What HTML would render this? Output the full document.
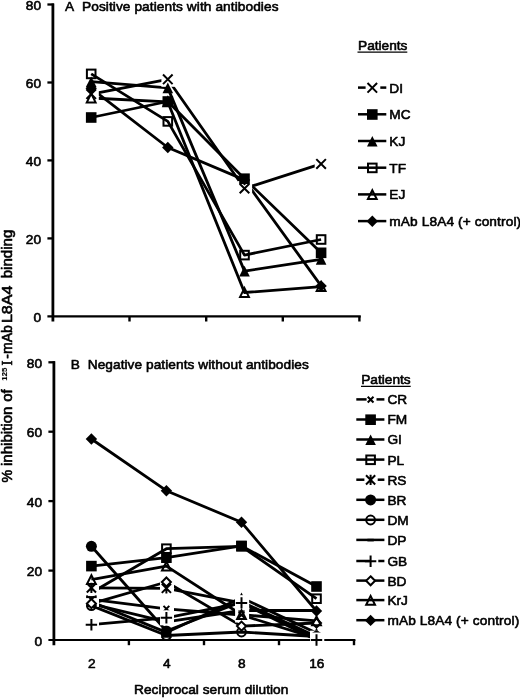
<!DOCTYPE html>
<html><head><meta charset="utf-8"><title>Figure</title>
<style>
html,body{margin:0;padding:0;background:#fff;}
svg{display:block;filter:grayscale(1);}
text{font-family:'Liberation Sans', Arial, sans-serif;font-size:13.7px;fill:#000;stroke:#000;stroke-width:0.6px;stroke-linejoin:round;}
</style></head><body>
<svg width="520" height="698" viewBox="0 0 520 698">
<rect width="520" height="698" fill="#fff"/>
<path d="M52.9 3.5V321.5" stroke="#000" stroke-width="2.8" fill="none"/>
<path d="M47.4 316.3H360.8" stroke="#000" stroke-width="2.2" fill="none"/>
<path d="M129.5 316.3v5.2" stroke="#000" stroke-width="2.4" fill="none"/>
<path d="M206.2 316.3v5.2" stroke="#000" stroke-width="2.4" fill="none"/>
<path d="M282.8 316.3v5.2" stroke="#000" stroke-width="2.4" fill="none"/>
<path d="M359.4 316.3v5.2" stroke="#000" stroke-width="2.4" fill="none"/>
<path d="M47.4 238.4H53.9" stroke="#000" stroke-width="2.3" fill="none"/>
<path d="M47.4 160.4H53.9" stroke="#000" stroke-width="2.3" fill="none"/>
<path d="M47.4 82.5H53.9" stroke="#000" stroke-width="2.3" fill="none"/>
<path d="M47.4 4.5H53.9" stroke="#000" stroke-width="2.3" fill="none"/>
<text x="41.0" y="322.0" text-anchor="end" >0</text>
<text x="41.0" y="244.1" text-anchor="end" >20</text>
<text x="41.0" y="166.1" text-anchor="end" >40</text>
<text x="41.0" y="88.2" text-anchor="end" >60</text>
<text x="41.0" y="10.2" text-anchor="end" >80</text>
<polyline points="91.2,94.1 167.8,79.3 244.5,188.5 321.1,163.9" fill="none" stroke="#000" stroke-width="2.8" stroke-linejoin="round"/>
<polyline points="91.2,117.5 167.8,101.5 244.5,178.7 321.1,252.8" fill="none" stroke="#000" stroke-width="2.8" stroke-linejoin="round"/>
<polyline points="91.2,81.7 167.8,87.9 244.5,271.1 321.1,259.4" fill="none" stroke="#000" stroke-width="2.8" stroke-linejoin="round"/>
<polyline points="91.2,73.9 167.8,121.4 244.5,255.1 321.1,239.5" fill="none" stroke="#000" stroke-width="2.8" stroke-linejoin="round"/>
<polyline points="91.2,98.0 167.8,101.9 244.5,292.5 321.1,286.7" fill="none" stroke="#000" stroke-width="2.8" stroke-linejoin="round"/>
<polyline points="91.2,88.3 167.8,147.5 244.5,179.9 321.1,285.9" fill="none" stroke="#000" stroke-width="2.8" stroke-linejoin="round"/>
<rect x="84.8" y="86.6" width="14.0" height="15.0" fill="#fff"/>
<path d="M86.4 89.3L96.0 98.9M86.4 98.9L96.0 89.3" stroke="#000" stroke-width="2.0" fill="none"/>
<rect x="161.4" y="71.8" width="14.0" height="15.0" fill="#fff"/>
<path d="M163.0 74.5L172.6 84.1M163.0 84.1L172.6 74.5" stroke="#000" stroke-width="2.0" fill="none"/>
<rect x="238.1" y="181.0" width="14.0" height="15.0" fill="#fff"/>
<path d="M239.7 183.7L249.3 193.3M239.7 193.3L249.3 183.7" stroke="#000" stroke-width="2.0" fill="none"/>
<rect x="314.7" y="156.4" width="14.0" height="15.0" fill="#fff"/>
<path d="M316.3 159.1L325.9 168.7M316.3 168.7L325.9 159.1" stroke="#000" stroke-width="2.0" fill="none"/>
<rect x="85.9" y="112.2" width="10.6" height="10.6" fill="#000"/>
<rect x="162.5" y="96.2" width="10.6" height="10.6" fill="#000"/>
<rect x="239.2" y="173.4" width="10.6" height="10.6" fill="#000"/>
<rect x="315.8" y="247.5" width="10.6" height="10.6" fill="#000"/>
<path d="M91.2 76.4L96.5 87.0H85.9Z" fill="#000"/>
<path d="M167.8 82.6L173.1 93.2H162.5Z" fill="#000"/>
<path d="M244.5 265.8L249.8 276.4H239.2Z" fill="#000"/>
<path d="M321.1 254.1L326.4 264.7H315.8Z" fill="#000"/>
<rect x="86.9" y="69.6" width="8.6" height="8.6" fill="none" stroke="#000" stroke-width="2.0"/>
<rect x="163.5" y="117.1" width="8.6" height="8.6" fill="none" stroke="#000" stroke-width="2.0"/>
<rect x="240.2" y="250.8" width="8.6" height="8.6" fill="none" stroke="#000" stroke-width="2.0"/>
<rect x="316.8" y="235.2" width="8.6" height="8.6" fill="none" stroke="#000" stroke-width="2.0"/>
<path d="M91.2 93.6L95.6 102.4H86.8Z" fill="none" stroke="#000" stroke-width="2.0" stroke-linejoin="miter"/>
<path d="M167.8 97.5L172.2 106.3H163.4Z" fill="none" stroke="#000" stroke-width="2.0" stroke-linejoin="miter"/>
<path d="M244.5 288.1L248.9 296.9H240.1Z" fill="none" stroke="#000" stroke-width="2.0" stroke-linejoin="miter"/>
<path d="M321.1 282.3L325.5 291.1H316.7Z" fill="none" stroke="#000" stroke-width="2.0" stroke-linejoin="miter"/>
<path d="M91.2 82.6L96.9 88.3L91.2 94.0L85.5 88.3Z" fill="#000"/>
<path d="M167.8 141.8L173.5 147.5L167.8 153.2L162.1 147.5Z" fill="#000"/>
<path d="M244.5 174.2L250.2 179.9L244.5 185.6L238.8 179.9Z" fill="#000"/>
<path d="M321.1 280.2L326.8 285.9L321.1 291.6L315.4 285.9Z" fill="#000"/>
<path d="M53.9 361.3V645.2" stroke="#000" stroke-width="2.8" fill="none"/>
<path d="M48.4 640.0H355.4" stroke="#000" stroke-width="2.2" fill="none"/>
<path d="M128.9 640.0v5.2" stroke="#000" stroke-width="2.4" fill="none"/>
<path d="M204.0 640.0v5.2" stroke="#000" stroke-width="2.4" fill="none"/>
<path d="M279.0 640.0v5.2" stroke="#000" stroke-width="2.4" fill="none"/>
<path d="M354.0 640.0v5.2" stroke="#000" stroke-width="2.4" fill="none"/>
<path d="M48.4 570.6H54.9" stroke="#000" stroke-width="2.3" fill="none"/>
<path d="M48.4 501.1H54.9" stroke="#000" stroke-width="2.3" fill="none"/>
<path d="M48.4 431.7H54.9" stroke="#000" stroke-width="2.3" fill="none"/>
<path d="M48.4 362.3H54.9" stroke="#000" stroke-width="2.3" fill="none"/>
<text x="42.0" y="645.6" text-anchor="end" >0</text>
<text x="42.0" y="576.2" text-anchor="end" >20</text>
<text x="42.0" y="506.8" text-anchor="end" >40</text>
<text x="42.0" y="437.3" text-anchor="end" >60</text>
<text x="42.0" y="367.9" text-anchor="end" >80</text>
<polyline points="91.4,599.4 166.4,608.8 241.5,615.0 316.5,638.3" fill="none" stroke="#000" stroke-width="2.8" stroke-linejoin="round"/>
<polyline points="91.4,566.1 166.4,557.7 241.5,545.9 316.5,586.5" fill="none" stroke="#000" stroke-width="2.8" stroke-linejoin="round"/>
<polyline points="91.4,601.8 166.4,632.4 241.5,597.7 316.5,633.1" fill="none" stroke="#000" stroke-width="2.8" stroke-linejoin="round"/>
<polyline points="91.4,592.8 166.4,548.7 241.5,546.3 316.5,598.7" fill="none" stroke="#000" stroke-width="2.8" stroke-linejoin="round"/>
<polyline points="91.4,587.9 166.4,588.3 241.5,602.9 316.5,638.3" fill="none" stroke="#000" stroke-width="2.8" stroke-linejoin="round"/>
<polyline points="91.4,546.3 166.4,631.0 241.5,601.8 316.5,636.5" fill="none" stroke="#000" stroke-width="2.8" stroke-linejoin="round"/>
<polyline points="91.4,605.6 166.4,635.5 241.5,632.0 316.5,636.5" fill="none" stroke="#000" stroke-width="2.8" stroke-linejoin="round"/>
<polyline points="91.4,603.9 166.4,621.9 241.5,610.5 316.5,610.5" fill="none" stroke="#000" stroke-width="2.8" stroke-linejoin="round"/>
<polyline points="91.4,624.7 166.4,617.8 241.5,602.9 316.5,640.0" fill="none" stroke="#000" stroke-width="2.8" stroke-linejoin="round"/>
<polyline points="91.4,603.6 166.4,582.0 241.5,626.1 316.5,623.0" fill="none" stroke="#000" stroke-width="2.8" stroke-linejoin="round"/>
<polyline points="91.4,579.6 166.4,566.1 241.5,614.7 316.5,620.9" fill="none" stroke="#000" stroke-width="2.8" stroke-linejoin="round"/>
<polyline points="91.4,439.0 166.4,490.7 241.5,522.3 316.5,611.0" fill="none" stroke="#000" stroke-width="2.8" stroke-linejoin="round"/>
<rect x="85.0" y="591.9" width="14.0" height="15.0" fill="#fff"/>
<path d="M88.5 596.5L94.3 602.3M88.5 602.3L94.3 596.5" stroke="#000" stroke-width="2.0" fill="none"/>
<rect x="160.0" y="601.3" width="14.0" height="15.0" fill="#fff"/>
<path d="M163.5 605.9L169.3 611.7M163.5 611.7L169.3 605.9" stroke="#000" stroke-width="2.0" fill="none"/>
<rect x="235.1" y="607.5" width="14.0" height="15.0" fill="#fff"/>
<path d="M238.6 612.1L244.4 617.9M238.6 617.9L244.4 612.1" stroke="#000" stroke-width="2.0" fill="none"/>
<rect x="310.1" y="630.8" width="14.0" height="15.0" fill="#fff"/>
<path d="M313.6 635.4L319.4 641.2M313.6 641.2L319.4 635.4" stroke="#000" stroke-width="2.0" fill="none"/>
<rect x="86.1" y="560.8" width="10.6" height="10.6" fill="#000"/>
<rect x="161.1" y="552.4" width="10.6" height="10.6" fill="#000"/>
<rect x="236.2" y="540.6" width="10.6" height="10.6" fill="#000"/>
<rect x="311.2" y="581.2" width="10.6" height="10.6" fill="#000"/>
<path d="M91.4 596.5L96.7 607.1H86.1Z" fill="#000"/>
<path d="M166.4 627.1L171.7 637.7H161.1Z" fill="#000"/>
<path d="M241.5 592.4L246.8 603.0H236.2Z" fill="#000"/>
<path d="M316.5 627.8L321.8 638.4H311.2Z" fill="#000"/>
<rect x="87.1" y="588.5" width="8.6" height="8.6" fill="none" stroke="#000" stroke-width="2.0"/>
<rect x="162.1" y="544.4" width="8.6" height="8.6" fill="none" stroke="#000" stroke-width="2.0"/>
<rect x="237.2" y="542.0" width="8.6" height="8.6" fill="none" stroke="#000" stroke-width="2.0"/>
<rect x="312.2" y="594.4" width="8.6" height="8.6" fill="none" stroke="#000" stroke-width="2.0"/>
<rect x="85.0" y="580.4" width="14.0" height="15.0" fill="#fff"/>
<path d="M86.8 583.3L96.0 592.5M86.8 592.5L96.0 583.3M91.4 582.7V593.1" stroke="#000" stroke-width="2.0" fill="none"/>
<rect x="160.0" y="580.8" width="14.0" height="15.0" fill="#fff"/>
<path d="M161.8 583.7L171.0 592.9M161.8 592.9L171.0 583.7M166.4 583.1V593.5" stroke="#000" stroke-width="2.0" fill="none"/>
<rect x="235.1" y="595.4" width="14.0" height="15.0" fill="#fff"/>
<path d="M236.9 598.3L246.1 607.5M236.9 607.5L246.1 598.3M241.5 597.7V608.1" stroke="#000" stroke-width="2.0" fill="none"/>
<rect x="310.1" y="630.8" width="14.0" height="15.0" fill="#fff"/>
<path d="M311.9 633.7L321.1 642.9M311.9 642.9L321.1 633.7M316.5 633.1V643.5" stroke="#000" stroke-width="2.0" fill="none"/>
<circle cx="91.4" cy="546.3" r="5.5" fill="#000"/>
<circle cx="166.4" cy="631.0" r="5.5" fill="#000"/>
<circle cx="241.5" cy="601.8" r="5.5" fill="#000"/>
<circle cx="316.5" cy="636.5" r="5.5" fill="#000"/>
<circle cx="91.4" cy="605.6" r="4.4" fill="none" stroke="#000" stroke-width="2.0"/>
<circle cx="166.4" cy="635.5" r="4.4" fill="none" stroke="#000" stroke-width="2.0"/>
<circle cx="241.5" cy="632.0" r="4.4" fill="none" stroke="#000" stroke-width="2.0"/>
<circle cx="316.5" cy="636.5" r="4.4" fill="none" stroke="#000" stroke-width="2.0"/>
<path d="M88.2 603.9H94.6" stroke="#000" stroke-width="2.6" fill="none"/>
<path d="M163.2 621.9H169.6" stroke="#000" stroke-width="2.6" fill="none"/>
<path d="M238.3 610.5H244.7" stroke="#000" stroke-width="2.6" fill="none"/>
<path d="M313.3 610.5H319.7" stroke="#000" stroke-width="2.6" fill="none"/>
<rect x="85.0" y="617.2" width="14.0" height="15.0" fill="#fff"/>
<path d="M85.7 624.7H97.1M91.4 619.0V630.4" stroke="#000" stroke-width="2.0" fill="none"/>
<rect x="160.0" y="610.3" width="14.0" height="15.0" fill="#fff"/>
<path d="M160.7 617.8H172.1M166.4 612.1V623.5" stroke="#000" stroke-width="2.0" fill="none"/>
<rect x="235.1" y="595.4" width="14.0" height="15.0" fill="#fff"/>
<path d="M235.8 602.9H247.2M241.5 597.2V608.6" stroke="#000" stroke-width="2.0" fill="none"/>
<rect x="310.1" y="632.5" width="14.0" height="15.0" fill="#fff"/>
<path d="M310.8 640.0H322.2M316.5 634.3V645.7" stroke="#000" stroke-width="2.0" fill="none"/>
<path d="M91.4 599.1L95.9 603.6L91.4 608.1L86.9 603.6Z" fill="#fff" stroke="#000" stroke-width="2.0"/>
<path d="M166.4 577.5L170.9 582.0L166.4 586.5L161.9 582.0Z" fill="#fff" stroke="#000" stroke-width="2.0"/>
<path d="M241.5 621.6L246.0 626.1L241.5 630.6L237.0 626.1Z" fill="#fff" stroke="#000" stroke-width="2.0"/>
<path d="M316.5 618.5L321.0 623.0L316.5 627.5L312.0 623.0Z" fill="#fff" stroke="#000" stroke-width="2.0"/>
<path d="M91.4 575.2L95.8 584.0H87.0Z" fill="none" stroke="#000" stroke-width="2.0" stroke-linejoin="miter"/>
<path d="M166.4 561.7L170.8 570.5H162.0Z" fill="none" stroke="#000" stroke-width="2.0" stroke-linejoin="miter"/>
<path d="M241.5 610.3L245.9 619.1H237.1Z" fill="none" stroke="#000" stroke-width="2.0" stroke-linejoin="miter"/>
<path d="M316.5 616.5L320.9 625.3H312.1Z" fill="none" stroke="#000" stroke-width="2.0" stroke-linejoin="miter"/>
<path d="M91.4 433.3L97.1 439.0L91.4 444.7L85.7 439.0Z" fill="#000"/>
<path d="M166.4 485.0L172.1 490.7L166.4 496.4L160.7 490.7Z" fill="#000"/>
<path d="M241.5 516.6L247.2 522.3L241.5 528.0L235.8 522.3Z" fill="#000"/>
<path d="M316.5 605.3L322.2 611.0L316.5 616.7L310.8 611.0Z" fill="#000"/>
<text x="65.0" y="10.6" text-anchor="start" textLength="213.5" lengthAdjust="spacing">A&#160; Positive patients with antibodies</text>
<text x="70.8" y="368.8" text-anchor="start" textLength="238" lengthAdjust="spacing">B&#160; Negative patients without antibodies</text>
<text x="91.7" y="667.5" text-anchor="middle" >2</text>
<text x="166.7" y="667.5" text-anchor="middle" >4</text>
<text x="241.8" y="667.5" text-anchor="middle" >8</text>
<text x="316.8" y="667.5" text-anchor="middle" >16</text>
<text x="134.0" y="694.0" text-anchor="start" textLength="154.3" lengthAdjust="spacing">Reciprocal serum dilution</text>
<g transform="translate(12.2 482) rotate(-90)">
<text x="-0.4" y="0.0" style="font-size:14.3px;" textLength="12.7" lengthAdjust="spacingAndGlyphs">%</text>
<text x="15.9" y="0.0" style="font-size:14.3px;" textLength="59.6" lengthAdjust="spacingAndGlyphs">inhibition</text>
<text x="80.2" y="0.0" style="font-size:14.3px;" textLength="12.6" lengthAdjust="spacingAndGlyphs">of</text>
<text x="101.3" y="-5.3" style="font-size:7.6px;font-family:'Liberation Sans',Arial,sans-serif;font-weight:bold;stroke-width:0.1px;" textLength="13.0" lengthAdjust="spacingAndGlyphs">125</text>
<text x="116.4" y="0.0" style="font-size:14.6px;font-family:'Liberation Serif','Times New Roman',serif;" textLength="5.0" lengthAdjust="spacingAndGlyphs">I</text>
<text x="123.3" y="0.0" style="font-size:14.3px;" textLength="33.6" lengthAdjust="spacingAndGlyphs">-mAb</text>
<text x="158.9" y="0.0" style="font-size:14.3px;" textLength="37.5" lengthAdjust="spacingAndGlyphs">L8A4</text>
<text x="203.7" y="0.0" style="font-size:14.3px;" textLength="48.6" lengthAdjust="spacingAndGlyphs">binding</text>
</g>
<text x="358.0" y="49.9" text-anchor="start" >Patients</text>
<path d="M357.5 52.2H407.3" stroke="#000" stroke-width="1.2" fill="none"/>
<path d="M358.0 87.6H386.3" stroke="#000" stroke-width="2.5" fill="none"/>
<rect x="365.6" y="81.1" width="14.7" height="13" fill="#fff"/>
<path d="M367.5 83.0L377.1 92.6M367.5 92.6L377.1 83.0" stroke="#000" stroke-width="2.0" fill="none"/>
<text x="389.3" y="92.5" text-anchor="start" >DI</text>
<path d="M358.0 114.3H386.3" stroke="#000" stroke-width="2.5" fill="none"/>
<rect x="367.0" y="109.2" width="10.6" height="10.6" fill="#000"/>
<text x="389.3" y="119.2" text-anchor="start" >MC</text>
<path d="M358.0 141.0H386.3" stroke="#000" stroke-width="2.5" fill="none"/>
<path d="M372.3 135.9L377.6 146.5H367.0Z" fill="#000"/>
<text x="389.3" y="145.9" text-anchor="start" >KJ</text>
<path d="M358.0 167.7H386.3" stroke="#000" stroke-width="2.5" fill="none"/>
<rect x="368.0" y="163.6" width="8.6" height="8.6" fill="none" stroke="#000" stroke-width="2.0"/>
<text x="389.3" y="172.6" text-anchor="start" >TF</text>
<path d="M358.0 194.4H386.3" stroke="#000" stroke-width="2.5" fill="none"/>
<path d="M372.3 190.2L376.7 199.0H367.9Z" fill="none" stroke="#000" stroke-width="2.0" stroke-linejoin="miter"/>
<text x="389.3" y="199.3" text-anchor="start" >EJ</text>
<path d="M358.0 221.1H386.3" stroke="#000" stroke-width="2.5" fill="none"/>
<path d="M372.3 215.6L378.0 221.3L372.3 227.0L366.6 221.3Z" fill="#000"/>
<text x="389.3" y="226.0" text-anchor="start" textLength="131.8" lengthAdjust="spacing">mAb L8A4 (+ control)</text>
<text x="361.2" y="384.1" text-anchor="start" >Patients</text>
<path d="M361.0 386.3H410.7" stroke="#000" stroke-width="1.2" fill="none"/>
<path d="M356.3 399.4H384.4" stroke="#000" stroke-width="2.5" fill="none"/>
<rect x="366.6" y="392.9" width="9.9" height="13" fill="#fff"/>
<path d="M367.7 396.7L373.5 402.5M367.7 402.5L373.5 396.7" stroke="#000" stroke-width="2.0" fill="none"/>
<text x="387.4" y="404.3" text-anchor="start" >CR</text>
<path d="M356.3 419.5H384.4" stroke="#000" stroke-width="2.5" fill="none"/>
<rect x="365.3" y="414.4" width="10.6" height="10.6" fill="#000"/>
<text x="387.4" y="424.4" text-anchor="start" >FM</text>
<path d="M356.3 439.5H384.4" stroke="#000" stroke-width="2.5" fill="none"/>
<path d="M370.6 434.4L375.9 445.0H365.3Z" fill="#000"/>
<text x="387.4" y="444.4" text-anchor="start" >GI</text>
<path d="M356.3 459.6H384.4" stroke="#000" stroke-width="2.5" fill="none"/>
<rect x="366.3" y="455.5" width="8.6" height="8.6" fill="none" stroke="#000" stroke-width="2.0"/>
<text x="387.4" y="464.5" text-anchor="start" >PL</text>
<path d="M356.3 479.7H384.4" stroke="#000" stroke-width="2.5" fill="none"/>
<rect x="364.4" y="473.2" width="13.3" height="13" fill="#fff"/>
<path d="M366.0 475.3L375.2 484.5M366.0 484.5L375.2 475.3M370.6 474.7V485.1" stroke="#000" stroke-width="2.0" fill="none"/>
<text x="387.4" y="484.6" text-anchor="start" >RS</text>
<path d="M356.3 499.8H384.4" stroke="#000" stroke-width="2.5" fill="none"/>
<circle cx="370.6" cy="499.9" r="5.5" fill="#000"/>
<text x="387.4" y="504.6" text-anchor="start" >BR</text>
<path d="M356.3 519.8H384.4" stroke="#000" stroke-width="2.5" fill="none"/>
<circle cx="370.6" cy="520.0" r="4.4" fill="none" stroke="#000" stroke-width="2.0"/>
<text x="387.4" y="524.7" text-anchor="start" >DM</text>
<path d="M356.3 539.9H384.4" stroke="#000" stroke-width="2.5" fill="none"/>
<path d="M367.4 540.1H373.8" stroke="#000" stroke-width="2.6" fill="none"/>
<text x="387.4" y="544.8" text-anchor="start" >DP</text>
<path d="M356.3 561.0H384.4" stroke="#000" stroke-width="2.5" fill="none"/>
<rect x="370.6" y="554.5" width="7.7" height="13" fill="#fff"/>
<path d="M364.9 561.2H376.3M370.6 555.5V566.9" stroke="#000" stroke-width="2.0" fill="none"/>
<text x="387.4" y="565.9" text-anchor="start" >GB</text>
<path d="M356.3 580.6H384.4" stroke="#000" stroke-width="2.5" fill="none"/>
<path d="M370.6 576.3L375.1 580.8L370.6 585.3L366.1 580.8Z" fill="#fff" stroke="#000" stroke-width="2.0"/>
<text x="387.4" y="585.5" text-anchor="start" >BD</text>
<path d="M356.3 600.1H384.4" stroke="#000" stroke-width="2.5" fill="none"/>
<path d="M370.6 595.9L375.0 604.7H366.2Z" fill="none" stroke="#000" stroke-width="2.0" stroke-linejoin="miter"/>
<text x="387.4" y="605.0" text-anchor="start" >KrJ</text>
<path d="M356.3 620.2H384.4" stroke="#000" stroke-width="2.5" fill="none"/>
<path d="M370.6 614.7L376.3 620.4L370.6 626.1L364.9 620.4Z" fill="#000"/>
<text x="387.4" y="625.1" text-anchor="start" textLength="131.8" lengthAdjust="spacing">mAb L8A4 (+ control)</text>
</svg></body></html>
